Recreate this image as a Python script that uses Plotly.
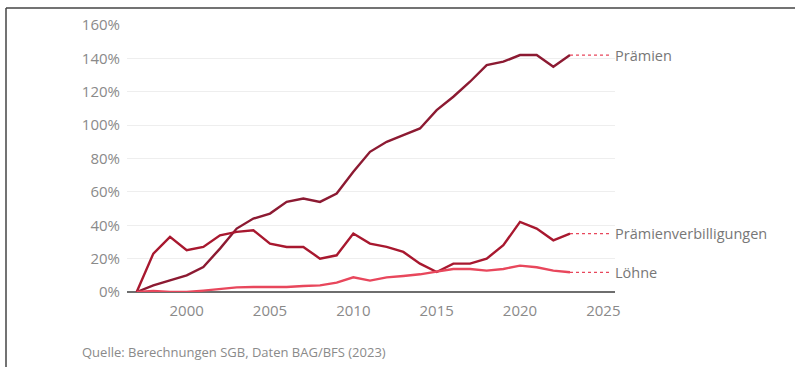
import plotly.graph_objects as go

years = list(range(1997, 2024))
praemien = [0, 4, 7, 10, 15, 26, 38, 44, 47, 54, 56, 54, 59, 72, 84, 90, 94, 98, 109, 117, 126, 136, 138, 142, 142, 135, 142]
verbill = [0, 23, 33, 25, 27, 34, 36, 37, 29, 27, 27, 20, 22, 35, 29, 27, 24, 17, 12, 17, 17, 20, 28, 42, 38, 31, 35]
loehne = [0, 0.6, 0, 0, 0.8, 1.8, 2.8, 3, 3, 3, 3.6, 4, 5.6, 8.8, 6.8, 8.8, 9.6, 10.6, 12.2, 13.8, 13.8, 12.8, 13.8, 15.8, 14.8, 12.8, 11.8]

names = ["Prämien", "Prämienverbilligungen", "Löhne"]
colors = ["#8c1a32", "#a8182f", "#e8475c"]
series = [praemien, verbill, loehne]
x_ticks = [2000, 2005, 2010, 2015, 2020, 2025]
y_ticks = [0, 20, 40, 60, 80, 100, 120, 140, 160]
y_labels = [f"{v}%" for v in y_ticks]
label_end = 2025.5

W, H = 795, 367
L, R, T, B = 127, 180, 25, 75
pw, ph = W - L - R, H - T - B

fig = go.Figure()
for name, col, vals in zip(names, colors, series):
    fig.add_trace(go.Scatter(x=years, y=vals, mode="lines", name=name,
                             line=dict(color=col, width=2.4), hoverinfo="skip"))
for name, col, vals in zip(names, colors, series):
    fig.add_trace(go.Scatter(x=[years[-1], label_end], y=[vals[-1], vals[-1]], mode="lines",
                             line=dict(color="#e8475c", width=1.3, dash="dot"), hoverinfo="skip"))
    fig.add_annotation(x=label_end, y=vals[-1], xref="x", yref="y", text=name,
                       showarrow=False, xanchor="left", xshift=1,
                       font=dict(family="Open Sans", size=14.5, color="#777777"))

fig.add_annotation(x=(80 - L) / pw, y=(H - B - 352) / ph, xref="paper", yref="paper",
                   text="Quelle: Berechnungen SGB, Daten BAG/BFS (2023)",
                   showarrow=False, xanchor="left", yanchor="middle",
                   font=dict(family="Open Sans", size=13, color="#8a8a8a"))

fig.update_layout(
    width=W, height=H,
    margin=dict(l=L, r=R, t=T, b=B),
    paper_bgcolor="white", plot_bgcolor="white",
    showlegend=False,
    font=dict(family="Open Sans", color="#8a8a8a", size=15),
    xaxis=dict(range=[1996.42, 2025.7], tickvals=x_ticks, showgrid=False, zeroline=False,
               showline=False, ticks="", ticklabelstandoff=8,
               tickfont=dict(size=15, color="#8a8a8a")),
    yaxis=dict(range=[0, 160], tickvals=y_ticks, ticktext=y_labels, showgrid=True,
               gridcolor="#eeeeee", gridwidth=1, zeroline=True, zerolinecolor="#6e6e6e",
               zerolinewidth=1.5, ticks="", ticklabelstandoff=6,
               tickfont=dict(size=15, color="#8a8a8a")),
    shapes=[
        dict(type="line", xref="paper", yref="paper", x0=(6 - L) / pw, x1=(795 - L) / pw,
             y0=(H - B - 8) / ph, y1=(H - B - 8) / ph, line=dict(color="#444444", width=1.5)),
        dict(type="line", xref="paper", yref="paper", x0=(6 - L) / pw, x1=(6 - L) / pw,
             y0=(H - B - 8) / ph, y1=(H - B - 367) / ph, line=dict(color="#444444", width=1.5)),
    ],
)
fig.write_html("out.html")
